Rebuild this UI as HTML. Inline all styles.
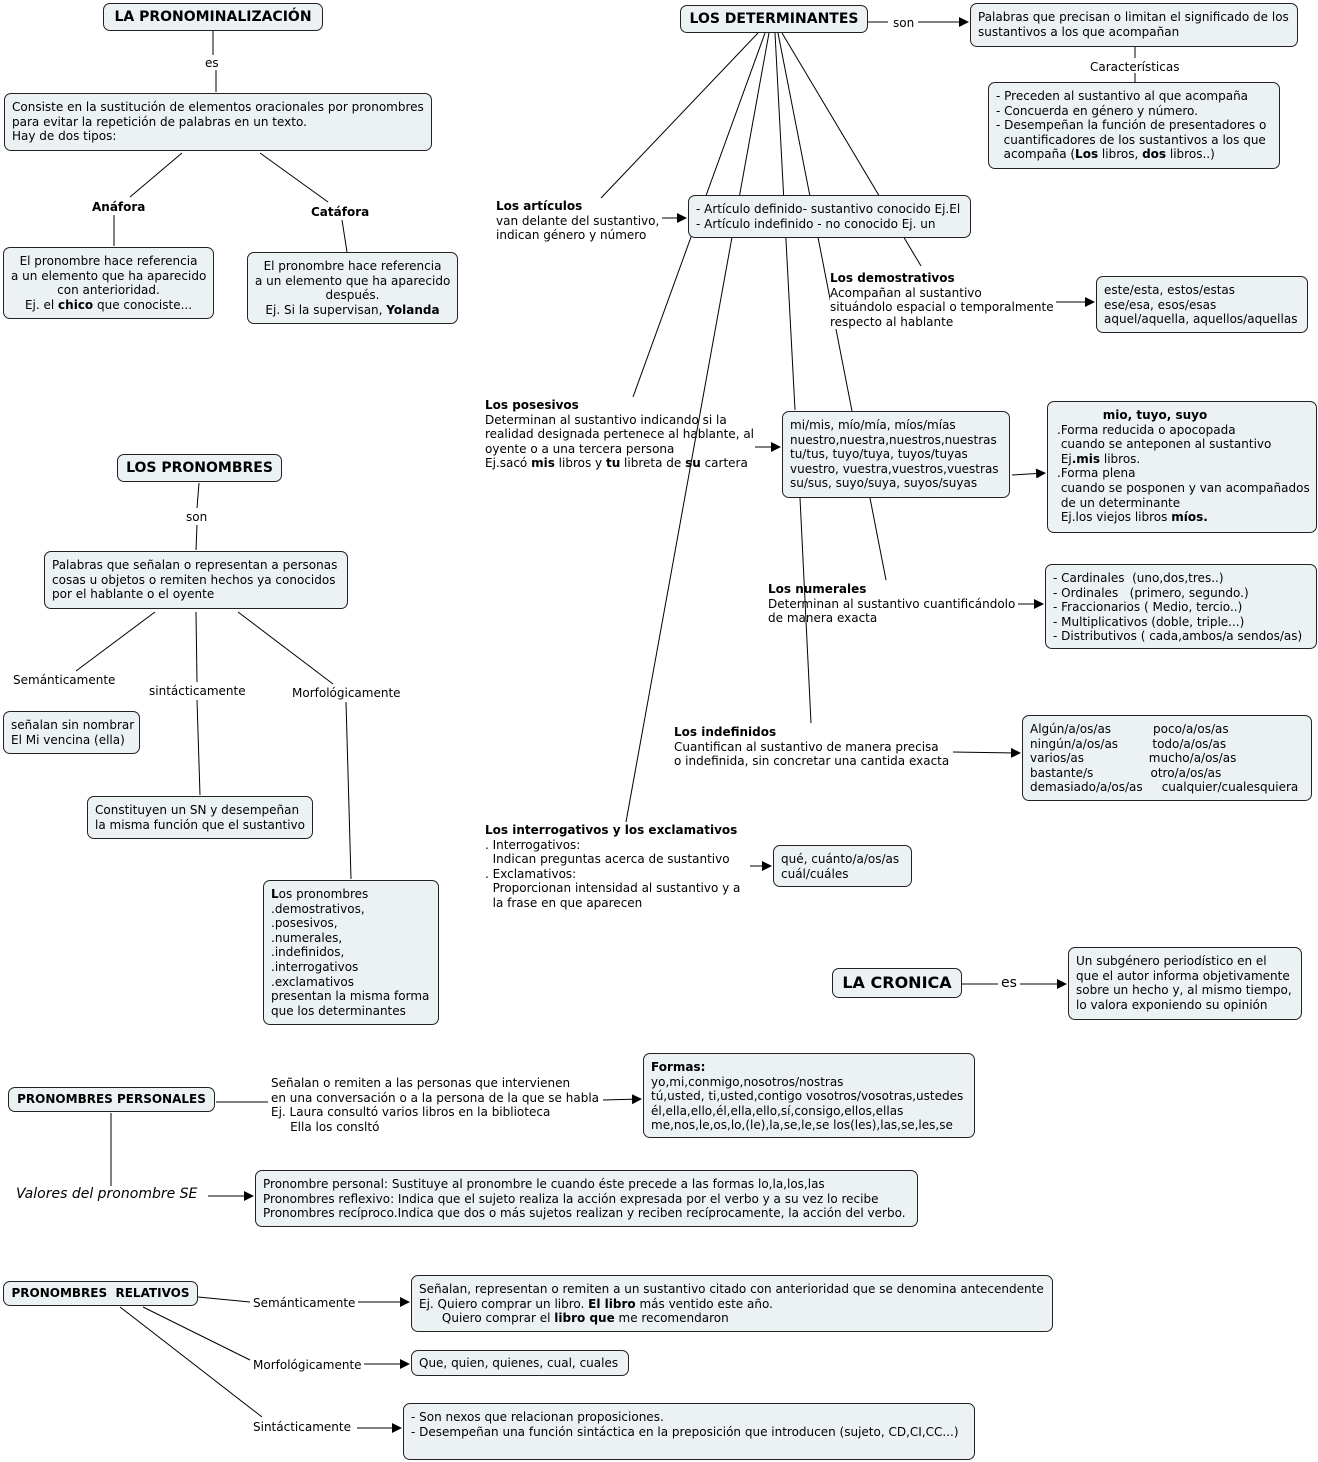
<!DOCTYPE html>
<html><head><meta charset="utf-8"><style>
body{margin:0;width:1318px;height:1462px;background:#fff;position:relative;overflow:hidden;font-family:"DejaVu Sans","Liberation Sans",sans-serif;font-size:12px;line-height:14.6px;color:#000}
.b{position:absolute;box-sizing:border-box;background:#ecf2f4;border:1px solid #222;border-radius:7px;padding:6px 7px 4px;white-space:pre}
.t{position:absolute;white-space:pre}
.c{text-align:center}
.h{font-weight:bold;font-size:14px;display:flex;align-items:center;justify-content:center;padding:0}
svg{position:absolute;left:0;top:0}
</style></head><body>
<svg width="1318" height="1462" stroke="#000" stroke-width="1" fill="none">
<defs><marker id="a" markerWidth="10" markerHeight="10" refX="9" refY="5" orient="auto" markerUnits="userSpaceOnUse"><path d="M0,0 L10,5 L0,10z" fill="#000" stroke="none"/></marker></defs>
<line x1="213" y1="31" x2="213" y2="55"/><line x1="216" y1="70" x2="216" y2="92"/>
<line x1="182" y1="153" x2="130" y2="197"/><line x1="114" y1="215" x2="114" y2="246"/>
<line x1="260" y1="153" x2="328" y2="202"/><line x1="342" y1="220" x2="347" y2="252"/>
<line x1="199" y1="483" x2="197" y2="508"/><line x1="197" y1="525" x2="196" y2="550"/>
<line x1="155" y1="612" x2="76" y2="671"/><line x1="196" y1="612" x2="197" y2="682"/><line x1="238" y1="612" x2="333" y2="684"/>
<line x1="197" y1="700" x2="200" y2="795"/><line x1="346" y1="702" x2="351" y2="879"/>
<line x1="758" y1="33" x2="601" y2="198"/><line x1="765" y1="33" x2="633" y2="397"/>
<line x1="769" y1="33" x2="626" y2="822"/><line x1="775" y1="33" x2="795" y2="410"/>
<line x1="778" y1="33" x2="852" y2="411"/><line x1="782" y1="33" x2="921" y2="266"/>
<line x1="800" y1="498" x2="811" y2="723"/><line x1="870" y1="498" x2="886" y2="580"/>
<line x1="868" y1="22" x2="888" y2="22"/><line x1="918" y1="22" x2="968" y2="22" marker-end="url(#a)"/>
<line x1="1135" y1="47" x2="1135" y2="58"/><line x1="1135" y1="73" x2="1135" y2="82"/>
<line x1="662" y1="218" x2="686" y2="218" marker-end="url(#a)"/>
<line x1="1056" y1="302" x2="1094" y2="302" marker-end="url(#a)"/>
<line x1="755" y1="447" x2="780" y2="447" marker-end="url(#a)"/>
<line x1="1012" y1="475" x2="1045" y2="473" marker-end="url(#a)"/>
<line x1="1018" y1="604" x2="1043" y2="604" marker-end="url(#a)"/>
<line x1="953" y1="752" x2="1020" y2="753" marker-end="url(#a)"/>
<line x1="750" y1="866" x2="771" y2="866" marker-end="url(#a)"/>
<line x1="962" y1="984" x2="998" y2="984"/><line x1="1020" y1="984" x2="1066" y2="984" marker-end="url(#a)"/>
<line x1="216" y1="1102" x2="268" y2="1102"/><line x1="603" y1="1100" x2="641" y2="1099" marker-end="url(#a)"/>
<line x1="111" y1="1113" x2="111" y2="1186"/><line x1="208" y1="1196" x2="253" y2="1196" marker-end="url(#a)"/>
<line x1="198" y1="1297" x2="250" y2="1302"/><line x1="358" y1="1302" x2="409" y2="1302" marker-end="url(#a)"/>
<line x1="143" y1="1307" x2="250" y2="1360"/><line x1="364" y1="1364" x2="409" y2="1364" marker-end="url(#a)"/>
<line x1="120" y1="1307" x2="262" y2="1417"/><line x1="357" y1="1428" x2="401" y2="1428" marker-end="url(#a)"/>
</svg>

<div class="b h" style="left:103px;top:3px;width:220px;height:28px">LA PRONOMINALIZACIÓN</div>
<div class="t" style="left:205px;top:56px">es</div>
<div class="b" style="left:4px;top:93px;width:428px;height:58px">Consiste en la sustitución de elementos oracionales por pronombres
para evitar la repetición de palabras en un texto.
Hay de dos tipos:</div>
<div class="t" style="left:92px;top:200px;font-weight:bold">Anáfora</div>
<div class="t" style="left:311px;top:205px;font-weight:bold">Catáfora</div>
<div class="b c" style="left:3px;top:247px;width:211px;height:72px">El pronombre hace referencia
a un elemento que ha aparecido
con anterioridad.
Ej. el <b>chico</b> que conociste...</div>
<div class="b c" style="left:247px;top:252px;width:211px;height:72px">El pronombre hace referencia
a un elemento que ha aparecido
después.
Ej. Si la supervisan, <b>Yolanda</b></div>

<div class="b h" style="left:117px;top:454px;width:165px;height:28px">LOS PRONOMBRES</div>
<div class="t" style="left:186px;top:510px">son</div>
<div class="b" style="left:44px;top:551px;width:304px;height:58px">Palabras que señalan o representan a personas
cosas u objetos o remiten hechos ya conocidos
por el hablante o el oyente</div>
<div class="t" style="left:13px;top:673px">Semánticamente</div>
<div class="t" style="left:149px;top:684px">sintácticamente</div>
<div class="t" style="left:292px;top:686px">Morfológicamente</div>
<div class="b" style="left:3px;top:711px;width:137px;height:43px">señalan sin nombrar
El Mi vencina (ella)</div>
<div class="b" style="left:87px;top:796px;width:226px;height:43px">Constituyen un SN y desempeñan
la misma función que el sustantivo</div>
<div class="b" style="left:263px;top:880px;width:176px;height:145px"><b>L</b>os pronombres
.demostrativos,
.posesivos,
.numerales,
.indefinidos,
.interrogativos
.exclamativos
presentan la misma forma
que los determinantes</div>

<div class="b h" style="left:680px;top:5px;width:188px;height:28px">LOS DETERMINANTES</div>
<div class="t" style="left:893px;top:16px">son</div>
<div class="b" style="left:970px;top:3px;width:328px;height:44px">Palabras que precisan o limitan el significado de los
sustantivos a los que acompañan</div>
<div class="t" style="left:1090px;top:60px">Características</div>
<div class="b" style="left:988px;top:82px;width:292px;height:87px">- Preceden al sustantivo al que acompaña
- Concuerda en género y número.
- Desempeñan la función de presentadores o
  cuantificadores de los sustantivos a los que
  acompaña (<b>Los</b> libros, <b>dos</b> libros..)</div>
<div class="t" style="left:496px;top:199px"><b>Los artículos</b>
van delante del sustantivo,
indican género y número</div>
<div class="b" style="left:688px;top:195px;width:283px;height:43px;overflow:hidden">- Artículo definido- sustantivo conocido Ej.El
- Artículo indefinido - no conocido Ej. un</div>
<div class="t" style="left:830px;top:271px;background:#fff"><b>Los demostrativos</b>
Acompañan al sustantivo
situándolo espacial o temporalmente
respecto al hablante</div>
<div class="b" style="left:1096px;top:276px;width:212px;height:57px">este/esta, estos/estas
ese/esa, esos/esas
aquel/aquella, aquellos/aquellas</div>
<div class="t" style="left:485px;top:398px"><b>Los posesivos</b>
Determinan al sustantivo indicando si la
realidad designada pertenece al hablante, al
oyente o a una tercera persona
Ej.sacó <b>mis</b> libros y <b>tu</b> libreta de <b>su</b> cartera</div>
<div class="b" style="left:782px;top:411px;width:228px;height:87px">mi/mis, mío/mía, míos/mías
nuestro,nuestra,nuestros,nuestras
tu/tus, tuyo/tuya, tuyos/tuyas
vuestro, vuestra,vuestros,vuestras
su/sus, suyo/suya, suyos/suyas</div>
<div class="b" style="left:1047px;top:401px;width:270px;height:132px;padding-left:9px">            <b>mio, tuyo, suyo</b>
.Forma reducida o apocopada
 cuando se anteponen al sustantivo
 Ej<b>.mis</b> libros.
.Forma plena
 cuando se posponen y van acompañados
 de un determinante
 Ej.los viejos libros <b>míos.</b></div>
<div class="t" style="left:768px;top:582px"><b>Los numerales</b>
Determinan al sustantivo cuantificándolo
de manera exacta</div>
<div class="b" style="left:1045px;top:564px;width:272px;height:85px">- Cardinales  (uno,dos,tres..)
- Ordinales   (primero, segundo.)
- Fraccionarios ( Medio, tercio..)
- Multiplicativos (doble, triple...)
- Distributivos ( cada,ambos/a sendos/as)</div>
<div class="t" style="left:674px;top:725px;background:#fff"><b>Los indefinidos</b>
Cuantifican al sustantivo de manera precisa
o indefinida, sin concretar una cantida exacta</div>
<div class="b" style="left:1022px;top:715px;width:290px;height:86px">Algún/a/os/as           poco/a/os/as
ningún/a/os/as         todo/a/os/as
varios/as                 mucho/a/os/as
bastante/s               otro/a/os/as
demasiado/a/os/as     cualquier/cualesquiera</div>
<div class="t" style="left:485px;top:823px"><b>Los interrogativos y los exclamativos</b>
. Interrogativos:
  Indican preguntas acerca de sustantivo
. Exclamativos:
  Proporcionan intensidad al sustantivo y a
  la frase en que aparecen</div>
<div class="b" style="left:773px;top:845px;width:139px;height:42px">qué, cuánto/a/os/as
cuál/cuáles</div>

<div class="b h" style="left:832px;top:968px;width:130px;height:30px;font-size:16px">LA CRONICA</div>
<div class="t" style="left:1001px;top:976px;font-size:14px">es</div>
<div class="b" style="left:1068px;top:947px;width:234px;height:73px">Un subgénero periodístico en el
que el autor informa objetivamente
sobre un hecho y, al mismo tiempo,
lo valora exponiendo su opinión</div>

<div class="b h" style="left:8px;top:1087px;width:207px;height:25px;font-size:12px">PRONOMBRES PERSONALES</div>
<div class="t" style="left:271px;top:1076px">Señalan o remiten a las personas que intervienen
en una conversación o a la persona de la que se habla
Ej. Laura consultó varios libros en la biblioteca
     Ella los consltó</div>
<div class="b" style="left:643px;top:1053px;width:332px;height:85px"><b>Formas:</b>
yo,mi,conmigo,nosotros/nostras
tú,usted, ti,usted,contigo vosotros/vosotras,ustedes
él,ella,ello,él,ella,ello,sí,consigo,ellos,ellas
me,nos,le,os,lo,(le),la,se,le,se los(les),las,se,les,se</div>
<div class="t" style="left:16px;top:1187px;font-style:italic;font-size:14px">Valores del pronombre SE</div>
<div class="b" style="left:255px;top:1170px;width:663px;height:57px">Pronombre personal: Sustituye al pronombre le cuando éste precede a las formas lo,la,los,las
Pronombres reflexivo: Indica que el sujeto realiza la acción expresada por el verbo y a su vez lo recibe
Pronombres recíproco.Indica que dos o más sujetos realizan y reciben recíprocamente, la acción del verbo.</div>

<div class="b h" style="left:3px;top:1281px;width:195px;height:25px;font-size:12px">PRONOMBRES  RELATIVOS</div>
<div class="t" style="left:253px;top:1296px">Semánticamente</div>
<div class="b" style="left:411px;top:1275px;width:642px;height:57px">Señalan, representan o remiten a un sustantivo citado con anterioridad que se denomina antecendente
Ej. Quiero comprar un libro. <b>El libro</b> más ventido este año.
      Quiero comprar el <b>libro que</b> me recomendaron</div>
<div class="t" style="left:253px;top:1358px">Morfológicamente</div>
<div class="b" style="left:411px;top:1350px;width:218px;height:26px;padding-top:5px">Que, quien, quienes, cual, cuales</div>
<div class="t" style="left:253px;top:1420px">Sintácticamente</div>
<div class="b" style="left:403px;top:1403px;width:572px;height:57px">- Son nexos que relacionan proposiciones.
- Desempeñan una función sintáctica en la preposición que introducen (sujeto, CD,CI,CC...)</div>
</body></html>
